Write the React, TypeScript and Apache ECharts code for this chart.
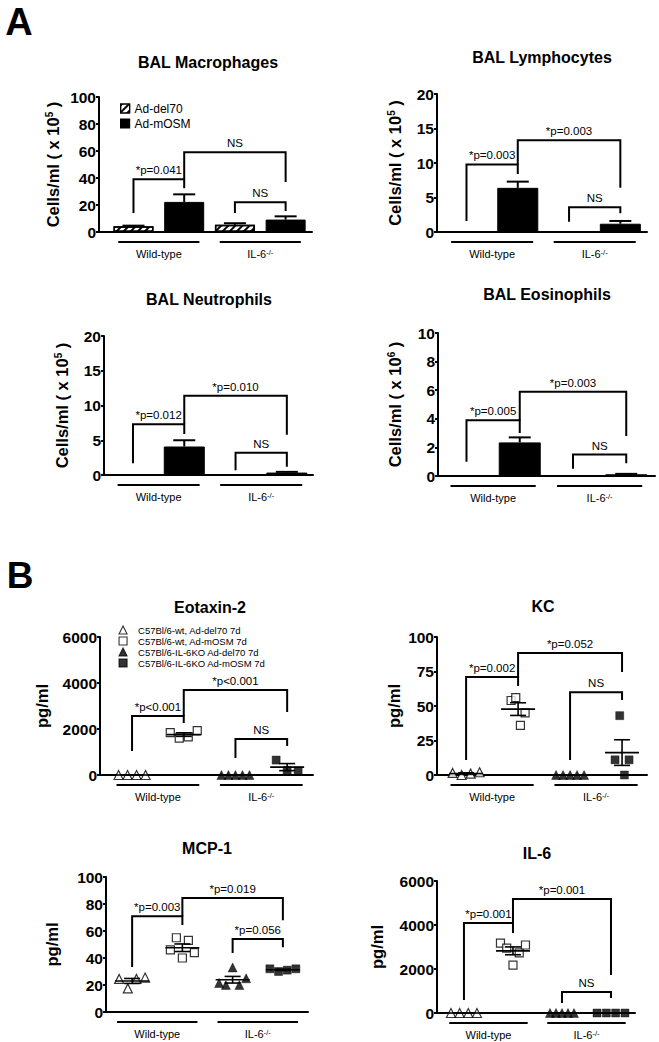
import React, { useEffect, useRef } from 'react';
import * as echarts from 'echarts';

const FONT = "'Liberation Sans', Arial, Helvetica, sans-serif";

// ---------------- Panel titles / axis names ----------------
const panelTitles = ['BAL Macrophages', 'BAL Lymphocytes', 'BAL Neutrophils', 'BAL Eosinophils', 'Eotaxin-2', 'KC', 'MCP-1', 'IL-6'];
const yNames = ['Cells/ml ( x 10{s|5} )', 'Cells/ml ( x 10{s|5} )', 'Cells/ml ( x 10{s|5} )', 'Cells/ml ( x 10{s|6} )', 'pg/ml', 'pg/ml', 'pg/ml', 'pg/ml'];
const yMax = [100, 20, 20, 10, 6000, 100, 100, 6000];
const yInterval = [20, 5, 5, 2, 2000, 25, 20, 2000];
const groupLabels = ['Wild-type', 'IL-6{s|-/-}'];
const groupCenters = [0.5, 2.5];

// ---------------- Panel A: bar data (mean, SEM) [wild-type, IL-6-/-] ----------------
const barNames = ['Ad-del70', 'Ad-mOSM'];
const macroDel70 = [4.3, 5.3];
const macroDel70Sem = [0.4, 1.2];
const macroMosm = [22.3, 9.2];
const macroMosmSem = [5.6, 2.4];
const lymphoDel70 = [0.03, 0.03];
const lymphoDel70Sem = [0, 0];
const lymphoMosm = [6.4, 1.2];
const lymphoMosmSem = [0.9, 0.4];
const neutroDel70 = [0.03, 0.03];
const neutroDel70Sem = [0, 0];
const neutroMosm = [4.1, 0.35];
const neutroMosmSem = [0.9, 0.1];
const eosDel70 = [0.02, 0.02];
const eosDel70Sem = [0, 0];
const eosMosm = [2.35, 0.12];
const eosMosmSem = [0.35, 0.03];

// ---------------- Panel B: individual points ----------------
const scatterNames = ['C57Bl/6-wt, Ad-del70 7d', 'C57Bl/6-wt, Ad-mOSM 7d', 'C57Bl/6-IL-6KO Ad-del70 7d', 'C57Bl/6-IL-6KO Ad-mOSM 7d'];
const eotaxinWtDel70 = [0, 0, 0, 0];
const eotaxinWtMosm = [1840, 1600, 1660, 1930];
const eotaxinKoDel70 = [0, 0, 0, 0, 0];
const eotaxinKoMosm = [650, 200, 180];
const kcWtDel70 = [1.5, 0, 1, 2];
const kcWtMosm = [54, 56, 36, 45];
const kcKoDel70 = [0, 0, 0, 0, 0];
const kcKoMosm = [11, 43, 0, 11];
const mcpWtDel70 = [24.5, 17.5, 24.5, 25.5];
const mcpWtMosm = [46, 55, 40, 53, 44];
const mcpKoDel70 = [21.5, 20, 33, 20, 25];
const mcpKoMosm = [32, 30, 31, 32];
const il6WtDel70 = [0, 0, 0, 0];
const il6WtMosm = [3180, 2950, 2180, 2730, 3090];
const il6KoDel70 = [0, 0, 0, 0, 0];
const il6KoMosm = [0, 0, 0, 0];

// ---------------- Significance brackets: [from, to, top, leftEnd, rightEnd, label] ----------------
type Bracket = [number, number, number, number, number, string];
const macroBrackets: Bracket[] = [[0, 1, 39, 14, 32.5, '*p=0.041'], [1, 3, 59, 39, 37, 'NS'], [2, 3, 22, 14, 15.5, 'NS']];
const lymphoBrackets: Bracket[] = [[0, 1, 9.8, 1.6, 8.4, '*p=0.003'], [1, 3, 13.3, 9.8, 6.4, '*p=0.003'], [2, 3, 3.6, 1.5, 2.7, 'NS']];
const neutroBrackets: Bracket[] = [[0, 1, 7.3, 1.7, 5.9, '*p=0.012'], [1, 3, 11.4, 7.3, 5.8, '*p=0.010'], [2, 3, 3.2, 0.7, 1.2, 'NS']];
const eosBrackets: Bracket[] = [[0, 1, 3.9, 1.0, 3.0, '*p=0.005'], [1, 3, 5.9, 3.9, 2.8, '*p=0.003'], [2, 3, 1.5, 0.5, 0.9, 'NS']];
const eotaxinBrackets: Bracket[] = [[0, 1, 2565, 1040, 2260, '*p<0.001'], [1, 3, 3700, 2565, 2740, '*p<0.001'], [2, 3, 1565, 740, 1260, 'NS']];
const kcBrackets: Bracket[] = [[0, 1, 71, 10.9, 64.5, '*p=0.002'], [1, 3, 88.4, 71, 74.6, '*p=0.052'], [2, 3, 60, 10.9, 54.3, 'NS']];
const mcpBrackets: Bracket[] = [[0, 1, 71, 33.3, 64.4, '*p=0.003'], [1, 3, 84.4, 71, 68, '*p=0.019'], [2, 3, 54, 43.7, 48, '*p=0.056']];
const il6Brackets: Bracket[] = [[0, 1, 4090, 590, 3640, '*p=0.001'], [1, 3, 5180, 4090, 1730, '*p=0.001'], [2, 3, 950, 450, 680, 'NS']];

// ---------------- Layout (pixels) ----------------
const LAYOUT = [
  { left: 99, top: 97, width: 213, height: 135, xMin: -0.68, xMax: 3.52, nameGap: 38, tx: 208, ty: 62, barW: 40 },
  { left: 437, top: 94, width: 210, height: 138, xMin: -0.575, xMax: 3.52, nameGap: 34, tx: 542, ty: 57, barW: 41 },
  { left: 104, top: 336, width: 209, height: 139, xMin: -0.565, xMax: 3.51, nameGap: 34, tx: 209, ty: 299, barW: 41 },
  { left: 438, top: 333, width: 217, height: 143, xMin: -0.535, xMax: 3.54, nameGap: 35, tx: 547, ty: 294, barW: 42 },
  { left: 100, top: 637, width: 213, height: 138, xMin: -0.62, xMax: 3.5, nameGap: 50, tx: 210, ty: 607, barW: 0 },
  { left: 437, top: 637, width: 210, height: 138, xMin: -0.56, xMax: 3.48, nameGap: 35, tx: 543, ty: 606, barW: 0 },
  { left: 106, top: 877, width: 202, height: 135, xMin: -0.52, xMax: 3.5, nameGap: 46, tx: 207, ty: 848, barW: 0 },
  { left: 437, top: 881, width: 198, height: 132, xMin: -0.55, xMax: 3.49, nameGap: 52, tx: 537, ty: 853, barW: 0 },
];
const SPREADS = [[27, 27, 28, 22], [27, 14, 28, 14], [26, 24, 27, 26], [26, 25, 24, 28]];

const HATCH = {
  symbol: 'rect', symbolSize: 1, color: '#000', backgroundColor: '#fff',
  dashArrayX: [1, 0], dashArrayY: [1.5, 3], rotation: -Math.PI / 4,
};

function meanSem(v: number[]) {
  const n = v.length;
  const m = v.reduce((a, b) => a + b, 0) / n;
  if (n < 2) return [m, 0];
  const sd = Math.sqrt(v.reduce((a, b) => a + (b - m) * (b - m), 0) / (n - 1));
  return [m, sd / Math.sqrt(n)];
}

function spreadOffset(k: number, n: number, w: number) {
  return n > 1 ? (k - (n - 1) / 2) * (w / (n - 1)) : 0;
}

function txt(text: string, x: number, y: number, size: number, bold: boolean, align = 'center', valign = 'middle', rich?: any) {
  return {
    type: 'text', x, y, silent: true,
    style: {
      text, fill: '#000', fontSize: size, fontWeight: bold ? 'bold' : 'normal', fontFamily: FONT,
      align, verticalAlign: valign, textAlign: align, textVerticalAlign: valign, rich,
    },
  };
}

const SUP_SMALL = { fontSize: 7.5, fontFamily: FONT, fill: '#000', verticalAlign: 'top', lineHeight: 8 };

function bracketSeries(i: number, list: Bracket[]) {
  return {
    type: 'custom', xAxisIndex: i, yAxisIndex: i, clip: false, silent: true, z: 4,
    data: list.map((b) => [b[0], b[2]]),
    renderItem: (params: any, api: any) => {
      const b = list[params.dataIndex];
      const pL = api.coord([b[0], b[2]]);
      const pR = api.coord([b[1], b[2]]);
      const lE = api.coord([b[0], b[3]]);
      const rE = api.coord([b[1], b[4]]);
      return {
        type: 'group',
        children: [
          { type: 'polyline', shape: { points: [lE, pL, pR, rE] }, style: { stroke: '#000', lineWidth: 2, fill: null } },
          txt(b[5], (pL[0] + pR[0]) / 2, pL[1] - 3, 11.5, false, 'center', 'bottom'),
        ],
      };
    },
  };
}

function groupLabelSeries(i: number) {
  return {
    type: 'custom', xAxisIndex: i, yAxisIndex: i, clip: false, silent: true, z: 4,
    data: groupCenters.map((c) => [c, 0]),
    renderItem: (params: any, api: any) => {
      const c = groupCenters[params.dataIndex];
      const p = api.coord([c, 0]);
      const l = api.coord([c - 0.8, 0]);
      const r = api.coord([c + 0.8, 0]);
      return {
        type: 'group',
        children: [
          { type: 'line', shape: { x1: l[0], y1: p[1] + 10, x2: r[0], y2: p[1] + 10 }, style: { stroke: '#000', lineWidth: 2 } },
          txt(groupLabels[params.dataIndex], p[0], p[1] + 22, 11, false, 'center', 'middle', { s: SUP_SMALL }),
        ],
      };
    },
  };
}

function barErrorSeries(i: number, items: number[][]) {
  return {
    type: 'custom', xAxisIndex: i, yAxisIndex: i, clip: false, silent: true, z: 3,
    data: items,
    renderItem: (params: any, api: any) => {
      const x = api.value(0), m = api.value(1), e = api.value(2);
      const b = api.coord([x, m]);
      const t = api.coord([x, m + e]);
      return {
        type: 'group',
        children: [
          { type: 'line', shape: { x1: b[0], y1: b[1], x2: t[0], y2: t[1] }, style: { stroke: '#000', lineWidth: 2 } },
          { type: 'line', shape: { x1: t[0] - 11, y1: t[1], x2: t[0] + 11, y2: t[1] }, style: { stroke: '#000', lineWidth: 2 } },
        ],
      };
    },
  };
}

function meanSemSeries(i: number, groups: number[][]) {
  const items = groups.map((g, gi) => { const [m, s] = meanSem(g); return [gi, m, s]; });
  return {
    type: 'custom', xAxisIndex: i, yAxisIndex: i, clip: false, silent: true, z: 3,
    data: items,
    renderItem: (params: any, api: any) => {
      const x = api.value(0), m = api.value(1), s = api.value(2);
      const c = api.coord([x, m]);
      const t = api.coord([x, m + s]);
      const b = api.coord([x, Math.max(0, m - s)]);
      const st = { stroke: '#000', lineWidth: 1.6 };
      return {
        type: 'group',
        children: [
          { type: 'line', shape: { x1: c[0] - 17, y1: c[1], x2: c[0] + 17, y2: c[1] }, style: st },
          { type: 'line', shape: { x1: b[0], y1: b[1], x2: t[0], y2: t[1] }, style: st },
          { type: 'line', shape: { x1: t[0] - 8, y1: t[1], x2: t[0] + 8, y2: t[1] }, style: st },
          { type: 'line', shape: { x1: b[0] - 8, y1: b[1], x2: b[0] + 8, y2: b[1] }, style: st },
        ],
      };
    },
  };
}

function buildOption() {
  const grid: any[] = [];
  const xAxis: any[] = [];
  const yAxis: any[] = [];
  const series: any[] = [];
  const graphic: any[] = [];

  LAYOUT.forEach((L, i) => {
    grid.push({ left: L.left, top: L.top, width: L.width, height: L.height });
    xAxis.push({
      gridIndex: i, type: 'value', min: L.xMin, max: L.xMax,
      axisLine: { show: true, onZero: false, lineStyle: { color: '#000', width: 2 } },
      axisTick: { show: false }, axisLabel: { show: false }, splitLine: { show: false },
    });
    yAxis.push({
      gridIndex: i, type: 'value', min: 0, max: yMax[i], interval: yInterval[i],
      axisLine: { show: true, onZero: false, lineStyle: { color: '#000', width: 2 } },
      axisTick: { show: true, length: 3, lineStyle: { color: '#000', width: 2 } },
      axisLabel: {
        color: '#000', fontFamily: FONT, fontSize: 15.5, fontWeight: 'bold', margin: 3,
        formatter: (v: number) => String(v),
      },
      splitLine: { show: false },
      name: yNames[i], nameLocation: 'middle', nameRotate: 90, nameGap: L.nameGap,
      nameTextStyle: {
        color: '#000', fontFamily: FONT, fontSize: 16.5, fontWeight: 'bold',
        rich: { s: { color: '#000', fontFamily: FONT, fontSize: 10, fontWeight: 'bold', verticalAlign: 'top' } },
      },
    });
    graphic.push(txt(panelTitles[i], L.tx, L.ty, 16, true));
    series.push(groupLabelSeries(i));
  });

  // Panel A bars
  const barSets = [
    [macroDel70, macroDel70Sem, macroMosm, macroMosmSem, macroBrackets],
    [lymphoDel70, lymphoDel70Sem, lymphoMosm, lymphoMosmSem, lymphoBrackets],
    [neutroDel70, neutroDel70Sem, neutroMosm, neutroMosmSem, neutroBrackets],
    [eosDel70, eosDel70Sem, eosMosm, eosMosmSem, eosBrackets],
  ] as any[];
  barSets.forEach(([d70, d70s, mo, mos, br], i) => {
    const bw = LAYOUT[i].barW;
    series.push({
      type: 'bar', name: barNames[0], xAxisIndex: i, yAxisIndex: i, barWidth: bw, barGap: '-100%', z: 2,
      data: d70.map((v: number, g: number) => [g * 2, v]),
      itemStyle: { color: '#fff', borderColor: '#000', borderWidth: 1.5, decal: HATCH },
    });
    series.push({
      type: 'bar', name: barNames[1], xAxisIndex: i, yAxisIndex: i, barWidth: bw, barGap: '-100%', z: 2,
      data: mo.map((v: number, g: number) => [g * 2 + 1, v]),
      itemStyle: { color: '#000', borderColor: '#000', borderWidth: 1 },
    });
    const errItems: number[][] = [];
    d70.forEach((v: number, g: number) => { if (d70s[g] > 0) errItems.push([g * 2, v, d70s[g]]); });
    mo.forEach((v: number, g: number) => { if (mos[g] > 0) errItems.push([g * 2 + 1, v, mos[g]]); });
    series.push(barErrorSeries(i, errItems));
    series.push(bracketSeries(i, br));
  });

  // Panel B scatter
  const scatterSets = [
    [[eotaxinWtDel70, eotaxinWtMosm, eotaxinKoDel70, eotaxinKoMosm], eotaxinBrackets],
    [[kcWtDel70, kcWtMosm, kcKoDel70, kcKoMosm], kcBrackets],
    [[mcpWtDel70, mcpWtMosm, mcpKoDel70, mcpKoMosm], mcpBrackets],
    [[il6WtDel70, il6WtMosm, il6KoDel70, il6KoMosm], il6Brackets],
  ] as any[];
  const symbols = ['triangle', 'rect', 'triangle', 'rect'];
  const sizes = [9, 8, 9, 8];
  const filled = [false, false, true, true];
  scatterSets.forEach(([groups, br], k) => {
    const i = k + 4;
    groups.forEach((vals: number[], gi: number) => {
      series.push({
        type: 'scatter', name: scatterNames[gi], xAxisIndex: i, yAxisIndex: i, clip: false, z: 2,
        symbol: symbols[gi], symbolSize: sizes[gi],
        itemStyle: filled[gi] ? { color: '#000', borderColor: '#000', borderWidth: 0.5 } : { color: '#fff', borderColor: '#000', borderWidth: 1.2 },
        data: vals.map((v, j) => ({ value: [gi, v], symbolOffset: [spreadOffset(j, vals.length, SPREADS[k][gi]), 0] })),
      });
    });
    series.push(meanSemSeries(i, groups));
    series.push(bracketSeries(i, br));
  });

  graphic.push(txt('A', 19, 22, 38, true));
  graphic.push(txt('B', 20, 575, 37, true));

  return {
    animation: false,
    backgroundColor: '#fff',
    textStyle: { fontFamily: FONT },
    grid, xAxis, yAxis, series, graphic,
    legend: [
      {
        left: 115, top: 97.5, orient: 'vertical', itemWidth: 9, itemHeight: 9, itemGap: 3, icon: 'rect',
        selectedMode: false, itemStyle: { borderWidth: 1.2, borderColor: '#000' },
        textStyle: { fontFamily: FONT, fontSize: 12, color: '#000' },
        data: barNames,
      },
      {
        left: 113.5, top: 620, orient: 'vertical', itemWidth: 8, itemHeight: 8, itemGap: 1,
        selectedMode: false, itemStyle: { borderWidth: 1.1, borderColor: '#000' },
        textStyle: { fontFamily: FONT, fontSize: 9.5, color: '#000', padding: [0, 0, 0, 6] },
        data: scatterNames,
      },
    ],
  };
}

export default function App() {
  const ref = useRef<HTMLDivElement>(null);
  useEffect(() => {
    const chart = echarts.init(ref.current!, null, { renderer: 'svg' });
    chart.setOption(buildOption() as any);
    return () => chart.dispose();
  }, []);
  return <div ref={ref} style={{ position: 'absolute', left: 0, top: 0, width: 659, height: 1042, background: '#fff' }} />;
}
